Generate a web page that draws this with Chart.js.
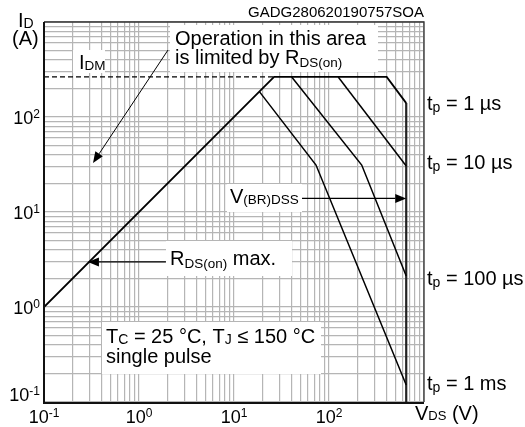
<!DOCTYPE html>
<html><head><meta charset="utf-8">
<script src="https://cdn.jsdelivr.net/npm/chart.js@4.4.0/dist/chart.umd.min.js"></script>
<style>html,body{margin:0;padding:0;background:#fff;}#wrap{width:525px;height:427px;}</style>
</head><body><div id="wrap"><canvas id="c" width="525" height="427"></canvas></div>
<script>
// ---------- data (V in volts, I in amperes) ----------
const xDecades = [0.1, 1, 10, 100, 1000];
const yDecades = [0.1, 1, 10, 100, 1000];
const gridMultipliers = [1, 2, 3, 4, 5, 6, 7, 8, 9];
const xTickExponents = ['-1', '0', '1', '2'];
const yTickExponents = ['-1', '0', '1', '2'];

const idmDashV = [0.1, 26.4];
const idmDashI = [264, 264];
const tp1usV = [0.1, 26.4, 405, 650];
const tp1usI = [1, 264, 264, 140];
const tp10usV = [125, 650];
const tp10usI = [264, 30.5];
const tp100usV = [40.5, 221, 650];
const tp100usI = [264, 31.2, 2.12];
const tp1msV = [18.5, 73, 650];
const tp1msI = [185, 31.2, 0.151];
const vbrdssV = [650, 650];
const vbrdssI = [140, 0.1];

// arrow anchors in data units
const arrowOperation = {fromV: 2.02, fromI: 507, toV: 0.328, toI: 32.8};
const arrowVbr = {fromV: 52, fromI: 13.9, toV: 650, toI: 13.9};
const arrowRds = {fromV: 1.92, fromI: 2.98, toV: 0.29, toI: 2.98};

const FONT = '"Liberation Sans", Arial, Helvetica, sans-serif';

function pts(xs, ys) { return xs.map((x, i) => ({x: x, y: ys[i]})); }
function gridValues(decs) {
  const out = [];
  for (let d = 0; d < decs.length - 1; d++) for (const m of gridMultipliers) out.push(+(decs[d] * m).toPrecision(3));
  out.push(decs[decs.length - 1]);
  return out;
}
function line(data, w, color, dash) {
  return {data: data, showLine: true, pointRadius: 0, borderColor: color || '#000', borderWidth: w,
    borderDash: dash || [], fill: false, tension: 0};
}

function rich(ctx, x, y, parts, align) {
  let w = 0;
  for (const p of parts) { ctx.font = (p.s || 20) + 'px ' + FONT; p.w = ctx.measureText(p.t).width; w += p.w; }
  let cx = align === 'right' ? x - w : align === 'center' ? x - w / 2 : x;
  for (const p of parts) {
    ctx.font = (p.s || 20) + 'px ' + FONT;
    ctx.fillText(p.t, cx, y + (p.dy || 0));
    cx += p.w;
  }
}
function box(ctx, x, y, w, h) { ctx.fillStyle = '#fff'; ctx.fillRect(x, y, w, h); ctx.fillStyle = '#000'; }
function arrow(ctx, x1, y1, x2, y2, lw) {
  const a = Math.atan2(y2 - y1, x2 - x1), L = 11, W = 4.5;
  const bx = x2 - L * Math.cos(a), by = y2 - L * Math.sin(a);
  ctx.strokeStyle = '#000'; ctx.lineWidth = lw;
  ctx.beginPath(); ctx.moveTo(x1, y1); ctx.lineTo(bx, by); ctx.stroke();
  ctx.beginPath(); ctx.moveTo(x2, y2);
  ctx.lineTo(bx + W * Math.sin(a), by - W * Math.cos(a));
  ctx.lineTo(bx - W * Math.sin(a), by + W * Math.cos(a));
  ctx.closePath(); ctx.fillStyle = '#000'; ctx.fill();
}

const overlay = {
  id: 'overlay',
  afterDraw(chart) {
    const ctx = chart.ctx, xs = chart.scales.x, ys = chart.scales.y, a = chart.chartArea;
    const px = v => xs.getPixelForValue(v), py = v => ys.getPixelForValue(v);
    ctx.save();
    ctx.textBaseline = 'alphabetic';
    ctx.fillStyle = '#000';
    // frame
    ctx.strokeStyle = '#333'; ctx.lineWidth = 1.3;
    ctx.beginPath(); ctx.moveTo(a.left, a.top); ctx.lineTo(a.right, a.top); ctx.lineTo(a.right, a.bottom); ctx.stroke();
    ctx.strokeStyle = '#111'; ctx.lineWidth = 2;
    ctx.beginPath(); ctx.moveTo(a.left, a.top); ctx.lineTo(a.left, a.bottom + 1); ctx.lineTo(a.right, a.bottom + 1); ctx.stroke();

    // tick labels
    xTickExponents.forEach((e, i) => {
      const x = px(xDecades[i]);
      rich(ctx, x, 423, [{t: '10', s: 18}, {t: e, s: 12, dy: -6}], 'center');
    });
    yTickExponents.forEach((e, i) => {
      const y = i === 0 ? 401 : py(yDecades[i]) + 6.5;
      rich(ctx, 40, y, [{t: '10', s: 18}, {t: e, s: 12, dy: -6}], 'right');
    });

    // axis titles
    rich(ctx, 18, 27, [{t: 'I'}, {t: 'D', s: 14, dy: 1}]);
    rich(ctx, 12, 45, [{t: '(A)'}]);
    rich(ctx, 415, 420, [{t: 'V'}, {t: 'DS', s: 13, dy: 0}, {t: ' (V)'}]);
    rich(ctx, 424, 17, [{t: 'GADG280620190757SOA', s: 15}], 'right');

    // right-side pulse labels
    rich(ctx, 427, 110, [{t: 't'}, {t: 'p', s: 14, dy: 2}, {t: ' = 1 µs'}]);
    rich(ctx, 427, 169, [{t: 't'}, {t: 'p', s: 14, dy: 2}, {t: ' = 10 µs'}]);
    rich(ctx, 427, 285, [{t: 't'}, {t: 'p', s: 14, dy: 2}, {t: ' = 100 µs'}]);
    rich(ctx, 427, 390, [{t: 't'}, {t: 'p', s: 14, dy: 2}, {t: ' = 1 ms'}]);

    // I_DM
    box(ctx, 73, 50, 32, 23);
    rich(ctx, 79, 68.5, [{t: 'I'}, {t: 'DM', s: 13.5, dy: 1}]);

    // Operation box + arrow
    box(ctx, 170, 25, 208, 47);
    rich(ctx, 175, 45, [{t: 'Operation in this area'}]);
    rich(ctx, 175, 63.5, [{t: 'is limited by R'}, {t: 'DS(on)', s: 13.5, dy: 3}]);
    arrow(ctx, px(arrowOperation.fromV), py(arrowOperation.fromI), px(arrowOperation.toV), py(arrowOperation.toI), 1);

    // V(BR)DSS
    box(ctx, 227, 184, 75, 28);
    rich(ctx, 230, 203, [{t: 'V'}, {t: '(BR)DSS', s: 13.5, dy: 1}]);
    arrow(ctx, px(arrowVbr.fromV), py(arrowVbr.fromI), px(arrowVbr.toV), py(arrowVbr.toI), 1.3);

    // RDS(on) max
    box(ctx, 166, 241, 126, 35);
    rich(ctx, 170, 265, [{t: 'R'}, {t: 'DS(on)', s: 13.5, dy: 3}, {t: ' max.'}]);
    arrow(ctx, px(arrowRds.fromV), py(arrowRds.fromI), px(arrowRds.toV), py(arrowRds.toI), 1.3);

    // conditions box
    box(ctx, 102, 322, 219, 52);
    rich(ctx, 106, 343, [{t: 'T'}, {t: 'C', s: 14, dy: 1}, {t: ' = 25 °C, T'}, {t: 'J', s: 14, dy: 1}, {t: ' ≤ 150 °C'}]);
    rich(ctx, 106, 363, [{t: 'single pulse'}]);
    ctx.restore();
  }
};

const gridStyle = {color: '#b5b5b5', lineWidth: 1.2, drawTicks: false};
new Chart(document.getElementById('c'), {
  type: 'scatter',
  data: {datasets: [
    line(pts(idmDashV, idmDashI), 1.3, '#000', [5, 3]),
    line(pts(tp1usV, tp1usI), 1.8),
    line(pts(tp10usV, tp10usI), 1.5),
    line(pts(tp100usV, tp100usI), 1.5),
    line(pts(tp1msV, tp1msI), 1.5),
    line(pts(vbrdssV, vbrdssI), 2.2, '#222')
  ]},
  options: {
    responsive: false, animation: false, devicePixelRatio: 1,
    layout: {padding: {left: 44, top: 22, right: 101, bottom: 25}},
    plugins: {legend: {display: false}, tooltip: {enabled: false}},
    scales: {
      x: {type: 'logarithmic', min: 0.1, max: 1000, grid: gridStyle, border: {display: false},
        ticks: {display: false}, afterBuildTicks: s => { s.ticks = gridValues(xDecades).map(v => ({value: v})); }},
      y: {type: 'logarithmic', min: 0.1, max: 1000, grid: gridStyle, border: {display: false},
        ticks: {display: false}, afterBuildTicks: s => { s.ticks = gridValues(yDecades).map(v => ({value: v})); }}
    }
  },
  plugins: [overlay]
});
</script></body></html>
